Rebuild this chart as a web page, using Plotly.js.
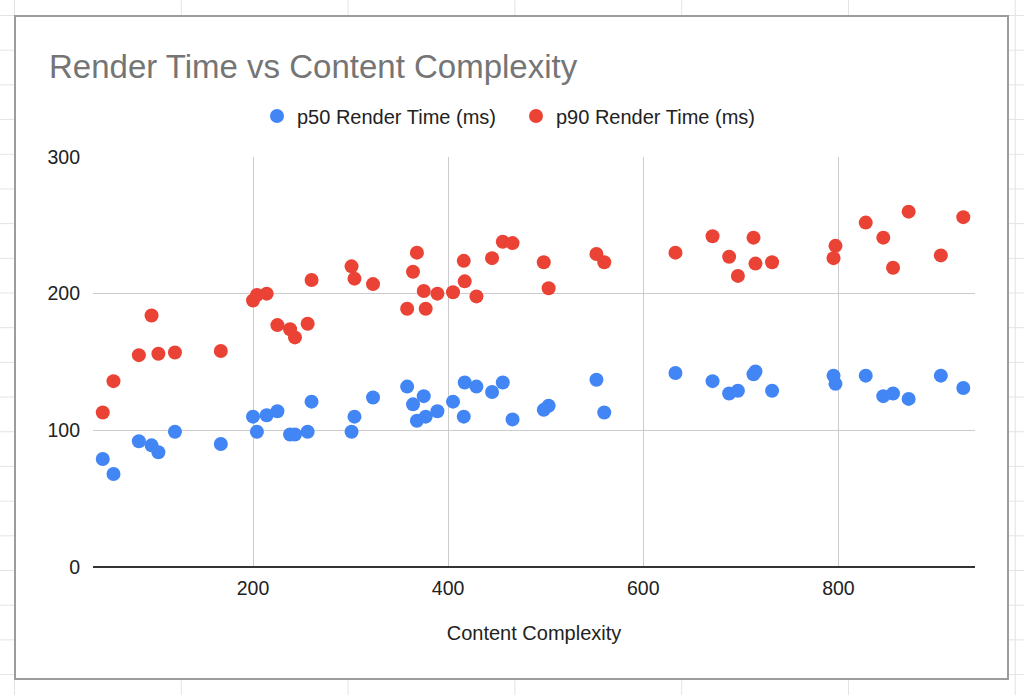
<!DOCTYPE html>
<html>
<head>
<meta charset="utf-8">
<script src="https://cdn.plot.ly/plotly-3.0.1.min.js"></script>
<style>
  html, body {
    margin: 0;
    padding: 0;
  }
  body {
    width: 1024px;
    height: 695px;
    overflow: hidden;
    position: relative;
    background-color: #ffffff;
    /* spreadsheet cell grid behind the chart */
    background-image:
      linear-gradient(to right, #e3e3e3 1px, transparent 1px),
      linear-gradient(to bottom, #e3e3e3 1px, transparent 1px);
    background-size: 166.8px 34.7px;
    background-position: 14px 15px;
  }
  #frame {
    position: absolute;
    left: 14px;
    top: 15px;
    width: 995px;
    height: 665px;
    box-sizing: border-box;
    border: 2px solid #9c9c9c;
    background: #ffffff;
  }
  #chart {
    position: absolute;
    left: 0;
    top: 0;
    width: 1024px;
    height: 695px;
  }
</style>
</head>
<body>
<div id="frame"></div>
<div id="chart"></div>
<script>
// Content complexity score for each measured page
const complexity = [46, 57, 83, 96, 103, 120, 167, 200, 204, 214, 225, 238, 243, 256, 260,
  301, 304, 323, 358, 364, 368, 375, 377, 389, 405, 416, 417, 429, 445, 456, 466, 498, 503,
  552, 560, 633, 671, 688, 697, 713, 715, 732, 795, 797, 828, 846, 856, 872, 905, 928];

// Median render time (ms)
const p50 = [79, 68, 92, 89, 84, 99, 90, 110, 99, 111, 114, 97, 97, 99, 121,
  99, 110, 124, 132, 119, 107, 125, 110, 114, 121, 110, 135, 132, 128, 135, 108, 115, 118,
  137, 113, 142, 136, 127, 129, 141, 143, 129, 140, 134, 140, 125, 127, 123, 140, 131];

// 90th percentile render time (ms)
const p90 = [113, 136, 155, 184, 156, 157, 158, 195, 199, 200, 177, 174, 168, 178, 210,
  220, 211, 207, 189, 216, 230, 202, 189, 200, 201, 224, 209, 198, 226, 238, 237, 223, 204,
  229, 223, 230, 242, 227, 213, 241, 222, 223, 226, 235, 252, 241, 219, 260, 228, 256];

const seriesNames = ['p50 Render Time (ms)', 'p90 Render Time (ms)'];
const xTicks = [200, 400, 600, 800];
const yTicks = [0, 100, 200, 300];

const FONT = 'Liberation Sans, Arial, Helvetica, sans-serif';

const traces = [
  {
    type: 'scatter',
    mode: 'markers',
    name: seriesNames[0],
    x: complexity,
    y: p50,
    marker: { color: '#4285F4', size: 14 }
  },
  {
    type: 'scatter',
    mode: 'markers',
    name: seriesNames[1],
    x: complexity,
    y: p90,
    marker: { color: '#EA4335', size: 14 }
  }
];

const layout = {
  width: 1024,
  height: 695,
  paper_bgcolor: 'rgba(0,0,0,0)',
  plot_bgcolor: 'rgba(0,0,0,0)',
  margin: { l: 93, r: 49, t: 157, b: 128, pad: 0 },
  font: { family: FONT, color: '#222222', size: 20 },
  title: {
    text: 'Render Time vs Content Complexity',
    font: { family: FONT, size: 33, color: '#757575' },
    xref: 'container',
    yref: 'container',
    x: 49 / 1024,
    xanchor: 'left',
    y: 1 - 66 / 695,
    yanchor: 'middle'
  },
  showlegend: true,
  legend: {
    orientation: 'h',
    xref: 'container',
    yref: 'container',
    x: 516 / 1024,
    xanchor: 'center',
    y: 1 - 116 / 695,
    yanchor: 'middle',
    entrywidth: 214,
    font: { family: FONT, size: 20, color: '#222222' },
    bgcolor: 'rgba(0,0,0,0)'
  },
  xaxis: {
    range: [36, 940],
    tickvals: xTicks,
    ticktext: xTicks.map(String),
    showgrid: true,
    gridcolor: '#cccccc',
    gridwidth: 1,
    zeroline: false,
    showline: false,
    ticks: '',
    ticklabelstandoff: 7,
    tickfont: { family: FONT, size: 19.5, color: '#222222' },
    title: {
      text: 'Content Complexity',
      font: { family: FONT, size: 20, color: '#222222' },
      standoff: 28
    },
    fixedrange: true
  },
  yaxis: {
    range: [0, 300],
    tickvals: yTicks,
    ticktext: yTicks.map(String),
    showgrid: true,
    gridcolor: '#cccccc',
    gridwidth: 1,
    zeroline: true,
    zerolinecolor: '#333333',
    zerolinewidth: 2,
    showline: false,
    ticks: '',
    ticklabelstandoff: 12,
    tickfont: { family: FONT, size: 19.5, color: '#222222' },
    fixedrange: true
  }
};

Plotly.newPlot('chart', traces, layout, { displayModeBar: false, staticPlot: true });
</script>
</body>
</html>
